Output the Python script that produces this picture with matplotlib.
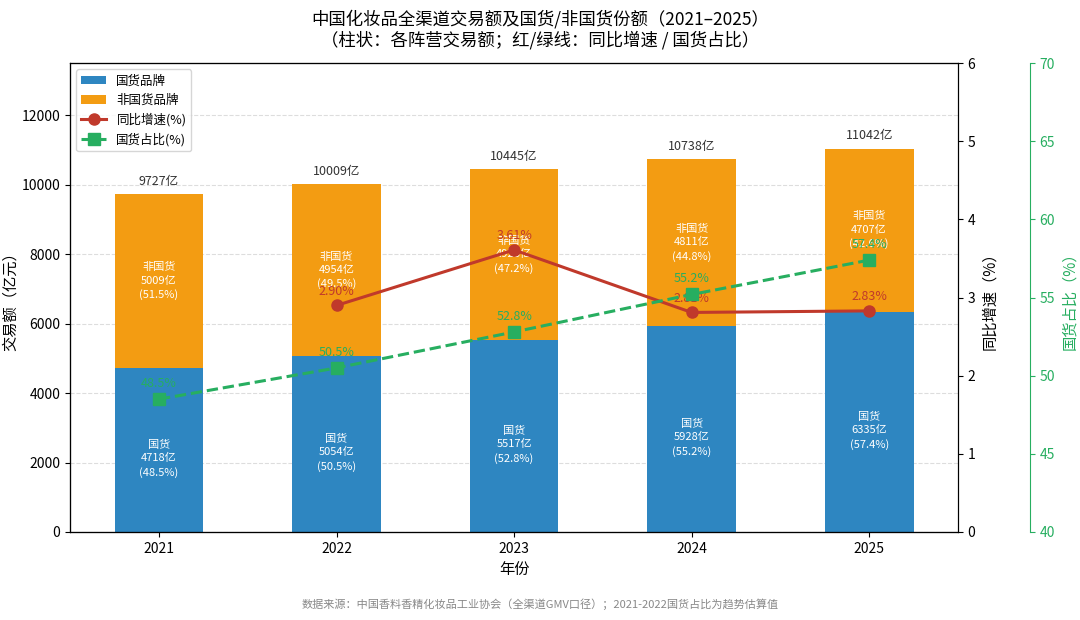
import numpy as np
import matplotlib.pyplot as plt

plt.rcParams['font.family'] = ['Noto Sans CJK SC', 'DejaVu Sans']

years = ["2021", "2022", "2023", "2024", "2025"]
domestic = [4718, 5054, 5517, 5928, 6335]
foreign = [5009, 4954, 4928, 4811, 4707]
totals = [9727, 10009, 10445, 10738, 11042]
dom_share = [48.5, 50.5, 52.8, 55.2, 57.4]
for_share = [51.5, 49.5, 47.2, 44.8, 42.6]
growth_years = ["2022", "2023", "2024", "2025"]
growth = [2.90, 3.61, 2.81, 2.83]

BLUE = "#2e86c1"
ORANGE = "#f39c12"
RED = "#c0392b"
GREEN = "#27ae60"

fig, ax = plt.subplots(figsize=(10.8, 6.2), dpi=100)
fig.subplots_adjust(left=0.065, right=0.887, top=0.898, bottom=0.142)

x = np.arange(len(years))
w = 0.5
ax.bar(x, domestic, w, color=BLUE, label="国货品牌", zorder=2)
ax.bar(x, foreign, w, bottom=domestic, color=ORANGE, label="非国货品牌", zorder=2)
for i in range(len(years)):
    ax.text(x[i], domestic[i] / 2 - 250, f"国货\n{domestic[i]}亿\n({dom_share[i]}%)",
            ha="center", va="center", color="white", fontsize=8, linespacing=1.4, zorder=3)
    ax.text(x[i], domestic[i] + foreign[i] / 2, f"非国货\n{foreign[i]}亿\n({for_share[i]}%)",
            ha="center", va="center", color="white", fontsize=8, linespacing=1.4, zorder=3)
    ax.text(x[i], totals[i] + 180, f"{totals[i]}亿", ha="center", va="bottom", fontsize=9, color="#333333")

ax.set_ylim(0, 13500)
ax.set_xlim(-0.5, 4.5)
ax.set_xticks(x)
ax.set_xticklabels(years)
ax.set_ylabel("交易额（亿元）", fontsize=11, labelpad=2)
ax.set_xlabel("年份", fontsize=11)
ax.grid(axis="y", linestyle="--", color="#dddddd", zorder=0)
ax.set_axisbelow(True)

ax2 = ax.twinx()
gx = [years.index(y) for y in growth_years]
ax2.plot(gx, growth, color=RED, marker="o", markersize=8, linewidth=2.2, label="同比增速(%)", zorder=4)
for xi, g in zip(gx, growth):
    ax2.text(xi, g + 0.1, f"{g:.2f}%", ha="center", va="bottom", color=RED, fontsize=9)
ax2.set_ylim(0, 6)
ax2.set_ylabel("同比增速（%）", fontsize=11)

ax3 = ax.twinx()
ax3.spines["right"].set_position(("axes", 1.081))
ax3.plot(x, dom_share, color=GREEN, marker="s", markersize=8, linewidth=2.2, linestyle="--",
         label="国货占比(%)", zorder=4)
for xi, s in zip(x, dom_share):
    ax3.text(xi, s + 0.6, f"{s}%", ha="center", va="bottom", color=GREEN, fontsize=9)
ax3.set_ylim(40, 70)
ax3.set_ylabel("国货占比（%）", fontsize=11, color=GREEN)
ax3.tick_params(axis="y", colors=GREEN)
ax3.spines["right"].set_color(GREEN)

h1, l1 = ax.get_legend_handles_labels()
h2, l2 = ax2.get_legend_handles_labels()
h3, l3 = ax3.get_legend_handles_labels()
ax.legend(h1 + h2 + h3, l1 + l2 + l3, loc="upper left", fontsize=9)

fig.suptitle("中国化妆品全渠道交易额及国货/非国货份额（2021–2025）\n（柱状：各阵营交易额；红/绿线：同比增速 / 国货占比）",
             fontsize=12.5, y=0.985)
fig.text(0.5, 0.02, "数据来源：中国香料香精化妆品工业协会（全渠道GMV口径）；2021-2022国货占比为趋势估算值",
         ha="center", fontsize=8, color="#888888")

fig.savefig("out.png")
